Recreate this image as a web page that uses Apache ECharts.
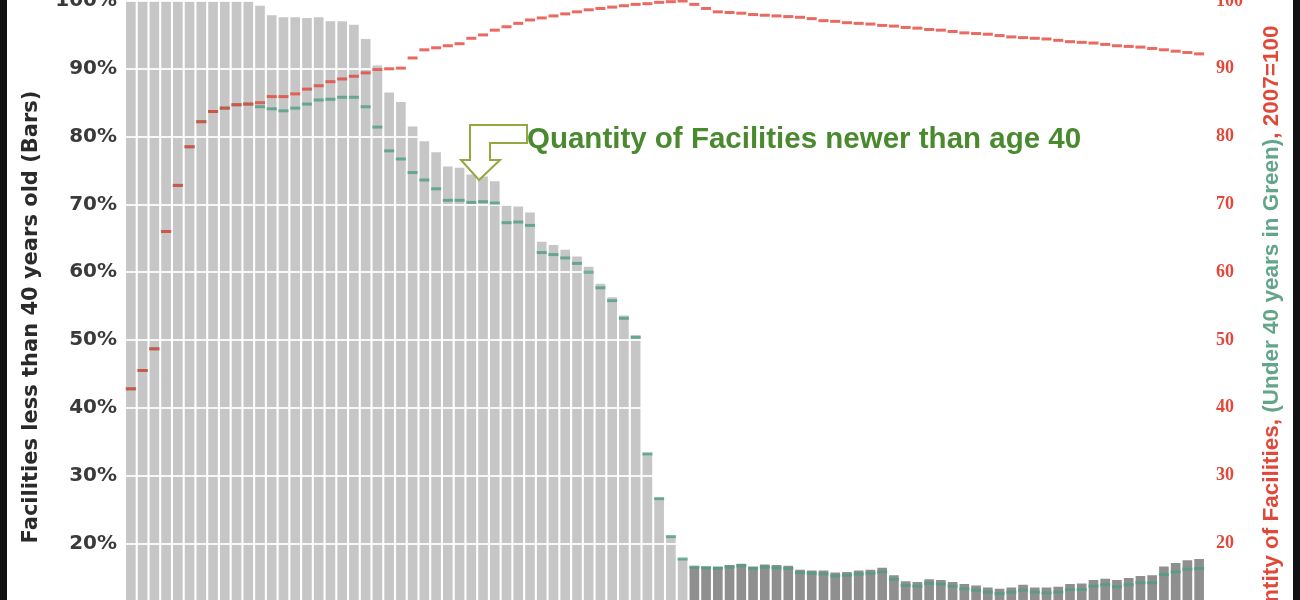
<!DOCTYPE html>
<html>
<head>
<meta charset="utf-8">
<script src="https://cdn.jsdelivr.net/npm/echarts@6/dist/echarts.min.js"></script>
<style>
  html, body { margin: 0; padding: 0; background: #fff; }
  #chart { width: 1300px; height: 600px; }
</style>
</head>
<body>
<div id="chart"></div>
<script>
// ---- data ----
const startYear = 1960;
const peakIndex = 47; // 2007 = 100
const years = Array.from({ length: 92 }, (_, i) => String(startYear + i));

// % of facilities less than 40 years old (bars)
const pctUnder40 = [
  100, 100, 100, 100, 100, 100, 100, 100, 100, 100, 100,
  99.3, 97.9, 97.6, 97.6, 97.5, 97.6, 97.0, 97.0, 96.5, 94.4,
  90.5, 86.5, 85.1, 81.5, 79.3, 77.7, 75.6, 75.4, 74.4, 74.1,
  73.4, 70.0, 69.7, 68.8, 64.5, 64.0, 63.3, 62.3, 60.8, 58.3,
  56.3, 53.6, 50.7, 33.3, 26.7, 21.0, 17.7,
  16.6, 16.6, 16.6, 16.8, 17.0, 16.6, 16.9, 16.8, 16.7, 16.1,
  16.0, 16.0, 15.7, 15.8, 16.0, 16.1, 16.4, 15.3, 14.4, 14.3,
  14.7, 14.6, 14.3, 14.0, 13.8, 13.5, 13.3, 13.5, 13.9, 13.5,
  13.5, 13.6, 14.0, 14.1, 14.6, 14.8, 14.6, 14.9, 15.2, 15.3,
  16.6, 17.1, 17.5, 17.7
];

// Quantity of facilities, 2007 = 100 (red)
const quantityAll = [
  42.8, 45.5, 48.7, 66.0, 72.8, 78.5, 82.2, 83.7, 84.2, 84.7,
  84.8, 85.0, 85.9, 85.9, 86.3, 87.0, 87.5, 88.1, 88.5, 88.9,
  89.4, 89.9, 90.0, 90.1, 91.6, 92.8, 93.1, 93.4, 93.7, 94.5,
  95.0, 95.7, 96.2, 96.7, 97.2, 97.5, 97.8, 98.1, 98.4, 98.7,
  98.9, 99.1, 99.3, 99.5, 99.6, 99.8, 99.9, 100,
  99.5, 98.9, 98.4, 98.3, 98.2, 98.0, 97.9, 97.8, 97.7, 97.6,
  97.4, 97.1, 97.0, 96.8, 96.7, 96.6, 96.4, 96.3, 96.1, 96.0,
  95.8, 95.7, 95.5, 95.3, 95.2, 95.1, 94.9, 94.7, 94.6, 94.5,
  94.4, 94.2, 94.0, 93.9, 93.8, 93.6, 93.4, 93.3, 93.2, 93.0,
  92.8, 92.6, 92.4, 92.2
];

// Quantity of facilities under 40 years (green)
const quantityUnder40 = [
  42.8, 45.5, 48.7, 66.0, 72.8, 78.5, 82.2, 83.7, 84.2, 84.7,
  84.8, 84.4, 84.1, 83.8, 84.2, 84.8, 85.4, 85.5, 85.8, 85.8,
  84.4, 81.4, 77.9, 76.7, 74.7, 73.6, 72.3, 70.6, 70.6, 70.3,
  70.4, 70.2, 67.3, 67.4, 66.9, 62.9, 62.6, 62.1, 61.3, 60.0,
  57.7, 55.8, 53.2, 50.4, 33.2, 26.6, 21.0, 17.7,
  16.5, 16.4, 16.3, 16.5, 16.7, 16.3, 16.5, 16.4, 16.3, 15.7,
  15.6, 15.5, 15.2, 15.3, 15.5, 15.6, 15.8, 14.7, 13.8, 13.7,
  14.1, 14.0, 13.7, 13.3, 13.1, 12.8, 12.6, 12.8, 13.1, 12.8,
  12.7, 12.8, 13.2, 13.2, 13.7, 13.9, 13.6, 13.9, 14.2, 14.2,
  15.4, 15.8, 16.2, 16.3
];

const leftTicks = [0, 10, 20, 30, 40, 50, 60, 70, 80, 90, 100];

// ---- chart ----
const lightBars = pctUnder40.map((v, i) => (i <= peakIndex ? v : null));
const darkBars = pctUnder40.map((v, i) => (i > peakIndex ? v : null));

const chart = echarts.init(document.getElementById('chart'), null, { renderer: 'canvas' });

chart.setOption({
  animation: false,
  backgroundColor: '#ffffff',
  grid: { left: 125, width: 1080, top: 1, height: 678, containLabel: false, outerBoundsMode: 'none' },
  xAxis: {
    type: 'category',
    data: years,
    boundaryGap: true,
    axisLine: { show: false },
    axisTick: { show: false },
    axisLabel: { show: false },
    splitLine: { show: false }
  },
  yAxis: [
    {
      type: 'value',
      min: leftTicks[0],
      max: leftTicks[leftTicks.length - 1],
      interval: 10,
      z: 3,
      axisLine: { show: false },
      axisTick: { show: false },
      axisLabel: {
        formatter: '{value}%',
        fontFamily: 'DejaVu Sans',
        fontWeight: 'bold',
        fontSize: 20,
        color: '#3a3a3a',
        margin: 8
      },
      splitLine: { show: true, lineStyle: { color: 'rgba(255,255,255,0.85)', width: 2 } }
    },
    {
      type: 'value',
      min: 0,
      max: 100,
      interval: 10,
      position: 'right',
      axisLine: { show: false },
      axisTick: { show: false },
      axisLabel: {
        fontFamily: 'Liberation Serif',
        fontWeight: 'bold',
        fontSize: 18,
        color: '#e0493a',
        margin: 11
      },
      splitLine: { show: false }
    }
  ],
  series: [
    {
      name: 'Facilities less than 40 years old',
      type: 'bar',
      data: lightBars,
      barCategoryGap: '18%',
      barGap: '-100%',
      itemStyle: { color: '#c6c6c6' },
      z: 2
    },
    {
      name: 'Facilities less than 40 years old (future)',
      type: 'bar',
      data: darkBars,
      barCategoryGap: '18%',
      barGap: '-100%',
      itemStyle: { color: '#8f8f8f' },
      z: 2
    },
    {
      name: 'Quantity under 40',
      type: 'scatter',
      yAxisIndex: 1,
      data: quantityUnder40,
      symbol: 'rect',
      symbolSize: [10, 3],
      itemStyle: { color: '#4f9e80' },
      z: 5
    },
    {
      name: 'Quantity of Facilities',
      type: 'scatter',
      yAxisIndex: 1,
      data: quantityAll,
      symbol: 'rect',
      symbolSize: [10, 3],
      itemStyle: { color: '#e5443a' },
      z: 6
    }
  ],
  graphic: [
    { type: 'rect', left: 0, top: 0, shape: { width: 7, height: 600 }, style: { fill: '#111' }, z: 100 },
    { type: 'rect', right: 0, top: 0, shape: { width: 7, height: 600 }, style: { fill: '#111' }, z: 100 },
    {
      type: 'text',
      x: 32, y: 317,
      rotation: Math.PI / 2,
      style: {
        text: 'Facilities less than 40 years old (Bars)',
        font: 'bold 21px "DejaVu Sans"',
        fill: '#2a2a2a',
        align: 'center',
        verticalAlign: 'middle'
      },
      z: 50
    },
    {
      type: 'text',
      x: 1272, y: 336,
      rotation: Math.PI / 2,
      style: {
        text: '{r|Quantity of Facilities, }{g|(Under 40 years in Green)}{r|, 2007=100}',
        align: 'center',
        verticalAlign: 'middle',
        rich: {
          r: { fontFamily: 'Liberation Sans', fontWeight: 'bold', fontSize: 22.5, fill: '#e0493a', color: '#e0493a' },
          g: { fontFamily: 'Liberation Sans', fontWeight: 'bold', fontSize: 22.5, fill: '#62a58a', color: '#62a58a' }
        }
      },
      z: 50
    },
    {
      type: 'polygon',
      shape: {
        points: [[470, 125], [527, 125], [527, 143], [490, 143], [490, 160], [500, 160], [479, 180], [461, 160], [470, 160]]
      },
      style: { fill: '#ffffff', stroke: '#93a842', lineWidth: 2 },
      z: 40
    },
    {
      type: 'text',
      x: 527, y: 140,
      style: {
        text: 'Quantity of Facilities newer than age 40',
        font: 'bold 29.5px "Liberation Sans"',
        fill: '#4a8a2e',
        verticalAlign: 'middle'
      },
      z: 40
    }
  ]
});
</script>
</body>
</html>
